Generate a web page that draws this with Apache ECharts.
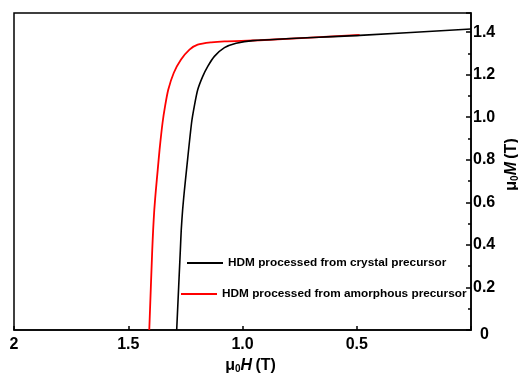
<!DOCTYPE html>
<html>
<head>
<meta charset="utf-8">
<script src="https://cdn.jsdelivr.net/npm/echarts@6/dist/echarts.min.js"></script>
<style>html,body{margin:0;padding:0;background:#fff;}#c{width:518px;height:376px;}</style>
</head>
<body>
<div id="c"></div>
<script>
const seriesNames = ['HDM processed from crystal precursor', 'HDM processed from amorphous precursor'];
// crystal precursor (black)
const H_crystal = [1.288, 1.272, 1.268, 1.262, 1.254, 1.245, 1.223, 1.211, 1.196, 1.174, 1.152, 1.123, 1.079, 1.028, 0.955, 0.487, 0.0];
const M_crystal = [0.0, 0.376, 0.471, 0.565, 0.659, 0.753, 0.973, 1.051, 1.129, 1.192, 1.239, 1.286, 1.327, 1.348, 1.360, 1.385, 1.415];
// amorphous precursor (red)
const H_amorph = [1.408, 1.395, 1.391, 1.386, 1.379, 1.371, 1.363, 1.350, 1.339, 1.325, 1.301, 1.269, 1.232, 1.196, 1.137, 1.079, 0.925, 0.487];
const M_amorph = [0.0, 0.376, 0.471, 0.565, 0.659, 0.753, 0.847, 0.973, 1.051, 1.129, 1.208, 1.271, 1.318, 1.341, 1.352, 1.357, 1.362, 1.387];
const xTicks = [2, 1.5, 1.0, 0.5];
const yTicks = [0, 0.2, 0.4, 0.6, 0.8, 1.0, 1.2, 1.4];

const zip = (a, b) => a.map((v, i) => [v, b[i]]);
const chart = echarts.init(document.getElementById('c'));
const FONT = 'Liberation Sans, Arial, sans-serif';
const nameRich = {
  m: { fontFamily: FONT, fontSize: 16, fontWeight: 'bold', color: '#000' },
  s: { fontFamily: FONT, fontSize: 10, fontWeight: 'bold', color: '#000', verticalAlign: 'bottom', padding: [6, 0, 0, 0] },
  i: { fontFamily: FONT, fontSize: 16, fontWeight: 'bold', fontStyle: 'italic', color: '#000' }
};
const legendText = { fontFamily: FONT, fontWeight: 'bold', fontSize: 11.8, color: '#000' };
chart.setOption({
  animation: false,
  backgroundColor: '#fff',
  grid: { left: 14, right: 47, top: 13, bottom: 46, show: true, borderColor: '#000', borderWidth: 1.5,
    containLabel: false, outerBoundsMode: 'none' },
  legend: [
    { data: [seriesNames[0]], left: 187, top: 257, padding: 0, icon: 'rect', itemWidth: 36, itemHeight: 2, selectedMode: false,
      textStyle: legendText },
    { data: [seriesNames[1]], left: 181, top: 288, padding: 0, icon: 'rect', itemWidth: 36, itemHeight: 2, selectedMode: false,
      textStyle: legendText }
  ],
  xAxis: {
    type: 'value', min: 0, max: 2, interval: 0.5, inverse: true,
    name: '{m|μ}{s|0}{i|H} {m|(T)}', nameLocation: 'middle', nameGap: 24,
    nameTextStyle: { padding: [0, 0, 0, 16], rich: nameRich },
    axisLine: { show: true, lineStyle: { color: '#000', width: 1.5 } },
    axisTick: { show: true, inside: true, length: 4, lineStyle: { color: '#000', width: 1.5 } },
    splitLine: { show: false },
    axisLabel: { margin: 7, fontFamily: FONT, fontWeight: 'bold', fontSize: 16, color: '#000',
      formatter: v => { const t = xTicks.find(x => Math.abs(x - v) < 1e-9); return t === undefined ? '' : (t === 2 ? '2' : t.toFixed(1)); } }
  },
  yAxis: {
    type: 'value', min: 0, max: 1.49, interval: 0.2, position: 'right',
    name: '{m|μ}{s|0}{i|M} {m|(T)}', nameLocation: 'middle', nameGap: 33, nameRotate: 90, nameMoveOverlap: false,
    nameTextStyle: { padding: [0, 0, 0, 14], rich: nameRich },
    axisLine: { show: true, lineStyle: { color: '#000', width: 1.5 } },
    axisTick: { show: true, inside: true, length: 5, lineStyle: { color: '#000', width: 1.5 } },
    minorTick: { show: true, splitNumber: 2, length: 3, lineStyle: { color: '#000', width: 1.5 } },
    splitLine: { show: false },
    axisLabel: { margin: 2, fontFamily: FONT, fontWeight: 'bold', fontSize: 16, color: '#000',
      formatter: v => { const t = yTicks.find(y => Math.abs(y - v) < 1e-9); if (t === undefined) return ''; return t === 0 ? '{z|0}' : t.toFixed(1); },
      rich: { z: { fontFamily: FONT, fontWeight: 'bold', fontSize: 16, color: '#000', padding: [10, 0, 0, 7] } } }
  },
  series: [
    { name: seriesNames[0], type: 'line', data: zip(H_crystal, M_crystal), symbol: 'none', smooth: 0.25, z: 3,
      color: '#000', lineStyle: { color: '#000', width: 1.6 } },
    { name: seriesNames[1], type: 'line', data: zip(H_amorph, M_amorph), symbol: 'none', smooth: 0.25, z: 2,
      color: '#ff0000', lineStyle: { color: '#ff0000', width: 1.8 } }
  ]
});
</script>
</body>
</html>
